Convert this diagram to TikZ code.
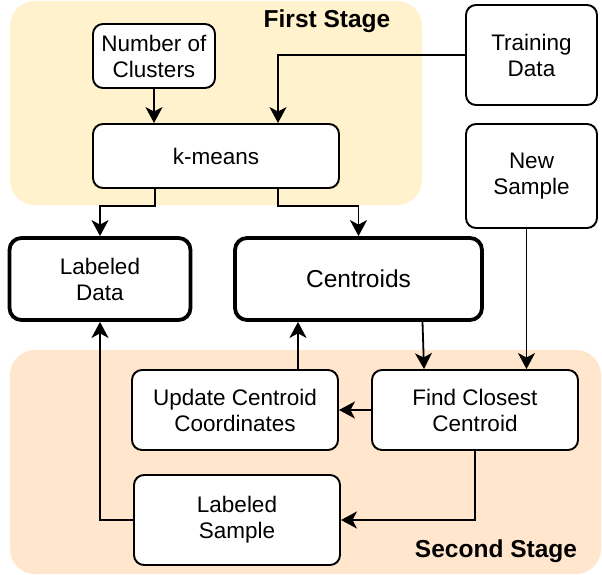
\documentclass[tikz,border=0pt]{standalone}
\usepackage{fontspec}
\setmainfont{Liberation Sans}
\usetikzlibrary{arrows.meta,positioning}
\definecolor{stageone}{HTML}{FFF2CC}
\definecolor{stagetwo}{HTML}{FFE6CC}
\tikzset{
  box/.style={draw=black, line width=1.9pt, rounded corners=10pt, fill=white, align=center, inner sep=0pt, font=\fontsize{22.5}{26}\selectfont},
  bigbox/.style={box, line width=3.8pt, rounded corners=12pt},
  arr/.style={-{Stealth[length=16pt,width=17pt,inset=4.5pt]}, line width=1.8pt},
  stagebg/.style={rounded corners=25pt, draw=none},
  stagelbl/.style={font=\fontsize{24.5}{26}\bfseries\selectfont, inner sep=0pt}
}
\begin{document}
\begin{tikzpicture}[x=1pt,y=-1pt]
\useasboundingbox (0,0) rectangle (602,575);
\fill[stageone, stagebg] (10,1) rectangle (422,205);
\fill[stagetwo, stagebg] (10,350) rectangle (601,574);
\node[stagelbl] (s1) at (327,21) {First Stage};
\node[stagelbl] (s2) at (496,551) {Second Stage};

\node[box, minimum width=122pt, minimum height=64pt] (noc) at (154,56) {Number of\\Clusters};
\node[box, minimum width=246pt, minimum height=64pt] (km) at (216,156) {k-means};
\node[box, minimum width=131pt, minimum height=100pt] (td) at (531.5,55) {Training\\Data};
\node[box, minimum width=131pt, minimum height=104pt] (ns) at (531.5,176) {New\\Sample};
\node[bigbox, minimum width=181pt, minimum height=82pt] (ld) at (100,279) {Labeled\\Data};
\node[bigbox, minimum width=247pt, minimum height=82pt, font=\fontsize{24.5}{26}\selectfont] (cen) at (358.5,279) {Centroids};
\node[box, minimum width=206pt, minimum height=80pt] (uc) at (235,410) {Update Centroid\\Coordinates};
\node[box, minimum width=206pt, minimum height=80pt] (fc) at (475,410) {Find Closest\\Centroid};
\node[box, minimum width=206pt, minimum height=90pt] (ls) at (237,520) {Labeled\\Sample};

\draw[arr] (noc.south) -- (noc.south |- km.north);
\draw[arr] (td.west) -| ([xshift=62pt]km.north);
\draw[arr] ([xshift=-61pt]km.south) -- ++(0,17) -| (ld.north);
\draw[arr] ([xshift=62pt]km.south) -- ++(0,17) -| (cen.north);
\draw[arr] ([xshift=64pt]cen.south) -- ([xshift=-51pt]fc.north);
\draw[arr] ([xshift=-5pt]ns.south) -- ([xshift=51.5pt]fc.north);
\draw[arr] (fc.west) -- (uc.east);
\draw[arr] ([xshift=63pt]uc.north) -- ([xshift=63pt]uc.north |- cen.south);
\draw[arr] (fc.south) |- (ls.east);
\draw[arr] (ls.west) -| (ld.south);
\end{tikzpicture}
\end{document}
